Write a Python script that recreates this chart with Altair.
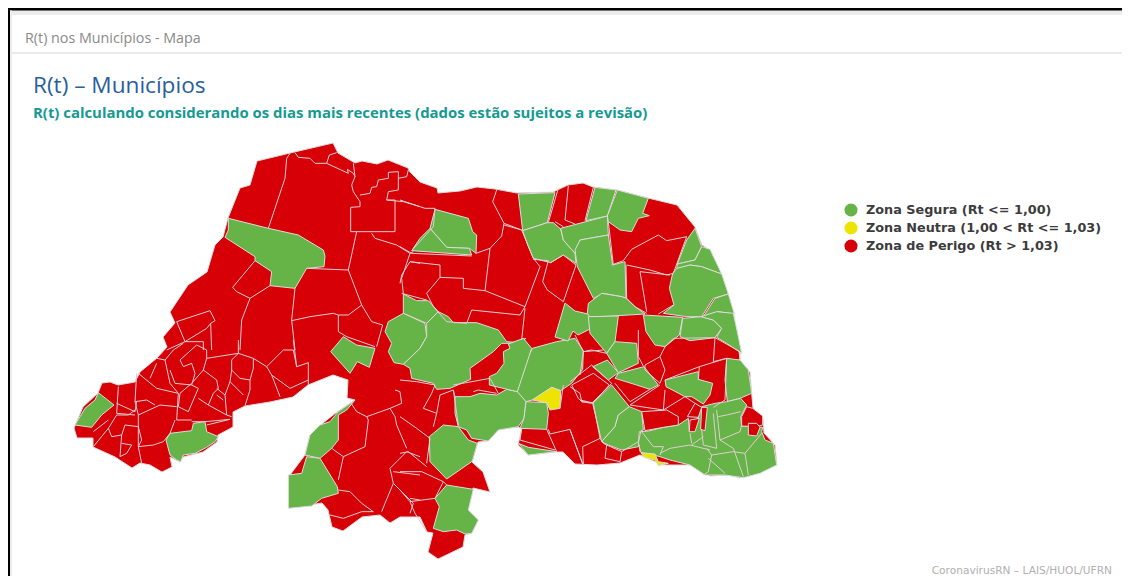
import altair as alt

# Crop origins of the traced map sheets (sheet units are 3x the picture)
Z1, Z2, Z3, Z4, Z8, Z10 = (60, 130), (60, 340), (400, 170), (400, 330), (320, 280), (570, 300)
ABS = (0, 0)

ZONES = ["Zona Segura (Rt <= 1,00)", "Zona Neutra (1,00 < Rt <= 1,03)", "Zona de Perigo (Rt > 1,03)"]
COLORS = ["#66b447", "#ede500", "#d70007"]

STATE_OUTLINE = [(257,161),(290,153),(333,143),(338,153),(355,163),(362,161),(377,164),(388,160),(408,168),(410,172),(420,182),(437,188),(438,193),(460,191),(477,187),(495,189),(517,193),(553,192),(568,185),(583,183),(593,187),(617,190),(648,198),(677,205),(695,227),(702,245),(708,249),(720,273),(728,297),(732,310),(737,333),(740,360),(750,372),(752,397),(753,408),(763,418),(764,433),(775,445),(777,465),(760,472),(747,470),(740,478),(728,475),(710,476),(705,473),(693,465),(667,465),(663,465),(640,455),(620,463),(597,465),(575,464),(563,452),(555,452),(528,455),(518,445),(522,428),(515,427),(498,430),(488,441),(478,442),(472,462),(483,472),(490,492),(473,488),(468,510),(478,520),(472,533),(465,535),(463,547),(438,559),(428,552),(433,533),(427,532),(420,517),(400,517),(390,523),(380,515),(362,517),(343,531),(332,527),(328,510),(322,503),(290,508),(290,475),(305,455),(310,435),(323,423),(337,412),(355,400),(347,398),(348,380),(333,375),(308,385),(293,397),(270,402),(245,406),(233,412),(233,427),(218,435),(217,442),(203,452),(183,457),(180,462),(170,457),(172,467),(162,472),(150,465),(140,463),(132,468),(115,457),(93,447),(93,438),(77,438),(74,428),(83,407),(98,393),(102,383),(110,382),(118,385),(135,382),(140,372),(157,358),(167,347),(163,337),(175,323),(170,312),(188,285),(207,272),(215,245),(223,237),(228,218),(240,188),(250,185)]

GREEN = [
 (Z1, [(505,265),(625,295),(715,315),(790,360),(795,378),(792,410),(740,415),(705,475),(630,467),(635,425),(585,392),(585,380),(495,322),(505,300)]),
 (Z8, [(70,170),(110,195),(165,205),(148,262),(112,245),(90,280),(32,215)]),
 (Z8, [(250,42),(290,62),(325,62),(355,95),(320,130),(250,100)]),
 (Z8, [(250,100),(315,130),(320,170),(300,205),(250,253),(222,248),(205,215),(215,190),(195,155),(205,125)]),
 (Z8, [(355,95),(385,110),(400,128),(470,128),(535,150),(560,185),(600,188),(618,175),(575,190),(545,190),(520,215),(450,265),(452,298),(390,325),(350,328),(340,310),(275,295),(270,265),(250,253),(300,205),(320,170),(320,130)]),
 (Z4, [(165,200),(210,200),(240,190),(290,195),(320,178),(355,185),(378,215),(372,265),(355,290),(295,300),(265,333),(215,325),(200,300),(175,290),(165,250)]),
 (Z4, [(378,215),(440,218),(445,250),(440,298),(360,295),(372,265)]),
 (Z4, [(397,55),(470,35),(525,25),(550,62),(548,118),(515,160),(482,182),(455,172),(397,210),(378,215),(352,185),(360,130)]),
 (Z4, [(395,55),(352,185),(322,178),(268,165),(268,140),(290,130),(312,100),(310,65),(330,55),(325,42),(370,25)]),
 (ABS, [(1695,909),(1725,933),(1764,942),(1770,951),(1776,984),(1734,1005),(1719,993),(1704,1023),(1665,1011)]),
 (Z3, [(105,118),(205,145),(218,185),(230,195),(228,250),(208,235),(140,232),(90,175)]),
 (Z3, [(90,175),(140,232),(208,235),(215,255),(35,242),(60,205)]),
 (Z3, [(355,72),(465,68),(442,158),(368,182)]),
 (Z3, [(585,52),(648,60),(622,138),(558,152)]),
 (Z3, [(652,60),(745,85),(728,130),(748,137),(715,145),(695,185),(660,180),(625,155),(622,138)]),
 (Z3, [(368,182),(442,158),(460,158),(482,177),(490,210),(525,250),(528,280),(490,255),(452,278),(400,265),(385,230)]),
 (Z3, [(482,175),(622,138),(625,195),(540,210),(525,250),(490,210)]),
 (Z3, [(540,210),(625,195),(638,285),(675,275),(678,385),(665,380),(610,370),(580,385),(532,290),(525,240)]),
 (Z3, [(885,175),(905,230),(885,270),(832,282),(860,210)]),
 (Z3, [(885,270),(905,230),(930,238),(965,312),(905,290),(870,285),(830,297),(832,282)]),
 (Z3, [(830,295),(870,285),(905,290),(965,312),(985,372),(940,385),(905,440),(860,440),(790,430),(822,405),(808,355),(818,310)]),
 (Z3, [(985,372),(1003,432),(955,425),(910,440),(945,385)]),
 (Z3, [(565,400),(605,370),(665,380),(680,385),(705,410),(735,432),(570,442),(562,430)]),
 (Z10, [(55,50),(145,48),(135,125),(110,160),(60,100)]),
 (Z10, [(220,45),(338,52),(328,105),(285,140),(255,135),(228,95)]),
 (Z10, [(338,55),(395,50),(430,60),(455,85),(435,113),(360,122),(330,110)]),
 (Z10, [(393,50),(440,35),(490,40),(505,110),(515,160),(470,130),(440,112),(455,85),(430,60)]),
 (Z10, [(110,160),(135,125),(200,130),(205,190),(145,218)]),
 (Z10, [(112,180),(145,218),(115,240),(68,200)]),
 (Z10, [(145,220),(222,200),(265,255),(240,268),(200,255),(135,235)]),
 (Z10, [(125,255),(178,320),(145,345),(135,380),(95,425),(68,310)]),
 (Z10, [(178,320),(215,335),(220,390),(208,395),(205,440),(155,450),(115,435),(95,425),(135,380),(145,345)]),
 (Z10, [(285,240),(385,215),(385,238),(428,250),(420,285),(400,312),(365,290),(345,290),(288,260)]),
 (Z10, [(470,175),(510,180),(535,210),(545,280),(510,295),(472,305),(465,240)]),
 (Z10, [(212,395),(235,393),(280,382),(325,375),(355,355),(358,395),(380,365),(395,320),(435,310),(470,305),(512,295),(530,315),(512,350),(515,378),(540,380),(578,382),(575,395),(585,420),(610,430),(620,495),(570,520),(520,533),(465,525),(405,525),(360,495),(300,480),(270,470),(250,465),(213,458),(205,430)]),
 (Z4, [(100,310),(130,285),(175,290),(205,330),(232,340),(218,390),(215,395),(140,447),(90,395),(88,320)]),
 (Z4, [(140,465),(220,478),(205,540),(235,570),(215,610),(195,612),(170,600),(130,605),(100,595),(118,530),(105,505)]),
 (Z4, [(355,340),(385,352),(470,365),(385,375)]),
 (Z2, [(115,158),(162,195),(125,225),(95,262),(45,255),(75,205),(105,180)]),
 (Z2, [(318,300),(330,280),(395,272),(400,250),(435,245),(440,275),(475,290),(465,305),(440,322),(405,340),(370,345),(362,365),(350,360),(330,345)]),
 (Z2, [(885,180),(860,210),(835,225),(835,300),(815,325),(780,355),(735,345),(750,285),(780,255),(810,245),(835,215)]),
 (Z2, [(740,350),(780,355),(832,440),(835,460),(785,475),(755,498),(685,505),(685,405),(725,400)]),
]

YELLOW = [
 (Z4, [(397,210),(455,172),(482,182),(480,235),(450,240),(440,218)]),
 (Z10, [(213,458),(255,462),(265,485),(295,490),(265,497),(255,480),(222,472)]),
]

RED_ON_GREEN = [
 (Z10, [(395,322),(412,322),(405,392),(392,388)]),
 (Z10, [(360,360),(388,355),(375,395),(358,395)]),
 (Z10, [(352,350),(375,310),(395,322),(385,352)]),
 (Z10, [(515,350),(530,320),(548,325),(578,348),(578,375),(560,380),(515,378)]),
 (Z10, [(535,370),(560,370),(570,382),(560,408),(535,405)]),
 (Z10, [(215,335),(290,330),(325,350),(325,375),(280,382),(225,392)]),
]

BORDERS = [
 (Z1, [(690,70),(680,85),(675,145),(625,295)]),
 (Z1, [(705,68),(715,82),(750,85),(765,100),(800,100),(808,75),(830,68)]),
 (Z1, [(800,100),(865,130),(862,118),(880,130),(885,140),(875,165),(880,185),(900,215),(900,230),(872,232),(872,305),(1005,305),(1005,210),(980,210),(985,185),(1015,180),(1015,125),(985,127),(985,145),(955,150),(950,170),(935,172),(930,190),(900,195)]),
 (Z1, [(880,100),(885,140)]),
 (Z1, [(1045,120),(1040,140),(1015,145)]),
 (Z1, [(980,210),(1030,215),(1080,230)]),
 (Z1, [(890,305),(865,420),(740,415)]),
 (Z1, [(865,420),(905,525),(935,575),(968,585),(950,650)]),
 (Z1, [(905,525),(865,555),(835,555),(820,550),(750,560),(695,572)]),
 (Z1, [(835,555),(835,605),(860,620),(945,650)]),
 (Z1, [(935,310),(945,325),(1010,345),(1050,370),(1060,365)]),
 (Z1, [(1050,370),(1040,400),(1025,445),(1030,490)]),
 (Z1, [(1050,395),(1080,400)]),
 (Z1, [(705,475),(695,570),(705,660)]),
 (Z1, [(630,467),(570,505),(545,570),(540,660)]),
 (Z1, [(585,392),(518,472),(530,485),(570,505)]),
 (Z1, [(350,575),(450,542),(465,572),(452,580),(455,660)]),
 (Z1, [(350,575),(375,635),(440,595),(452,580)]),
 (Z1, [(375,635),(430,635),(430,660)]),
 (Z1, [(375,635),(320,660)]),
 (Z2, [(290,55),(315,60),(340,30),(370,10)]),
 (Z2, [(440,55),(535,40),(580,55),(620,80),(635,105),(660,170)]),
 (Z2, [(535,0),(535,40)]),
 (Z2, [(535,40),(515,60),(515,90),(510,125),(495,165),(500,225)]),
 (Z2, [(580,55),(580,85),(570,120),(570,150),(555,197)]),
 (Z2, [(515,90),(540,115),(570,120)]),
 (Z2, [(510,125),(550,165)]),
 (Z2, [(620,80),(670,30),(700,30),(710,80),(745,68),(745,135)]),
 (Z2, [(635,105),(690,145),(745,120)]),
 (Z2, [(700,0),(710,80)]),
 (Z2, [(440,55),(430,90),(470,120),(475,145),(460,160),(445,195)]),
 (Z2, [(430,90),(395,130),(360,160)]),
 (Z2, [(315,60),(330,130),(355,160),(350,240),(395,240)]),
 (Z2, [(235,100),(290,145),(355,160)]),
 (Z2, [(290,70),(270,115)]),
 (Z2, [(330,90),(345,130),(395,135),(405,100),(395,70),(370,80),(360,60),(410,15),(440,30),(440,55)]),
 (Z2, [(360,160),(355,200),(385,215),(415,145),(395,135)]),
 (Z2, [(350,200),(300,195),(235,225),(225,185),(230,100)]),
 (Z2, [(225,185),(260,180),(285,195)]),
 (Z2, [(230,185),(225,215),(170,190)]),
 (Z2, [(175,140),(170,220),(225,225)]),
 (Z2, [(145,265),(170,225)]),
 (Z2, [(145,265),(155,290),(185,285),(180,350)]),
 (Z2, [(185,285),(195,255),(235,260),(245,300),(235,320),(245,370)]),
 (Z2, [(235,225),(235,320)]),
 (Z2, [(185,310),(215,315),(200,340),(180,350)]),
 (Z2, [(235,320),(280,315),(310,305),(330,280)]),
 (Z2, [(100,275),(145,240)]),
 (Z2, [(100,320),(145,265)]),
 (Z2, [(345,240),(330,280)]),
 (Z2, [(395,245),(435,245),(510,238)]),
 (Z2, [(440,255),(510,238)]),
 (Z2, [(445,195),(500,225),(515,230)]),
 (Z2, [(415,175),(445,195)]),
 (Z2, [(470,145),(495,165)]),
 (Z2, [(470,165),(490,180)]),
 (Z2, [(170,225),(205,225),(225,210)]),
 (Z2, [(870,185),(890,215),(920,230),(925,240),(915,320),(850,350),(815,325)]),
 (Z2, [(920,230),(990,205),(1005,230),(1010,255),(1040,325)]),
 (Z2, [(1005,150),(1020,155),(1025,190),(990,205)]),
 (Z2, [(1040,335),(990,385),(1000,430),(975,490),(965,515)]),
 (Z2, [(850,350),(835,420)]),
 (Z2, [(1000,395),(1080,405)]),
 (Z2, [(1040,335),(1080,350)]),
 (Z2, [(1000,430),(1060,490),(1050,520)]),
 (Z2, [(1050,475),(1080,480)]),
 (Z2, [(835,450),(870,455),(905,490),(940,515),(905,515),(850,535),(810,525)]),
 (Z3, [(0,90),(75,115),(105,115)]),
 (Z3, [(105,115),(100,170),(35,242)]),
 (Z3, [(0,230),(35,250)]),
 (Z3, [(290,60),(278,95),(312,160),(365,180)]),
 (Z3, [(312,160),(305,198),(270,235),(228,250)]),
 (Z3, [(270,235),(255,362)]),
 (Z3, [(35,250),(215,258)]),
 (Z3, [(312,165),(365,180),(400,265),(420,290),(375,410),(255,362),(190,355),(190,325),(120,322),(120,285),(30,275),(5,315),(0,340)]),
 (Z3, [(120,322),(80,370),(100,410),(140,455),(200,460),(215,420),(360,435),(375,410)]),
 (Z3, [(5,370),(80,390)]),
 (Z3, [(375,415),(365,510)]),
 (Z3, [(400,268),(445,272),(428,335),(442,360),(490,395)]),
 (Z3, [(452,278),(490,255),(528,285),(490,395)]),
 (Z3, [(445,158),(475,55)]),
 (Z3, [(505,48),(495,150),(525,162)]),
 (Z3, [(465,155),(490,170)]),
 (Z3, [(580,52),(555,152)]),
 (Z3, [(678,285),(680,385)]),
 (Z3, [(635,285),(670,272),(695,238),(775,195),(800,212),(860,200),(820,310),(800,315),(750,300),(680,285)]),
 (Z3, [(720,305),(740,425)]),
 (Z3, [(720,305),(810,315)]),
 (Z3, [(678,385),(705,410),(740,430)]),
 (Z3, [(820,405),(775,432)]),
 (Z3, [(625,155),(640,285)]),
 (Z4, [(0,260),(50,295),(90,325),(80,400)]),
 (Z4, [(0,150),(50,155),(105,165),(95,190),(70,235),(110,250),(120,195),(160,180),(165,200)]),
 (Z4, [(160,180),(175,285)]),
 (Z4, [(110,250),(100,290)]),
 (Z4, [(0,370),(25,365),(80,410)]),
 (Z4, [(0,425),(65,425),(130,455),(140,465)]),
 (Z4, [(0,480),(30,515),(105,505)]),
 (Z4, [(30,515),(45,550),(80,605)]),
 (Z4, [(130,455),(105,505)]),
 (Z4, [(160,165),(270,145),(295,190)]),
 (Z4, [(220,185),(235,180),(290,190)]),
 (Z4, [(365,295),(360,330),(465,360)]),
 (Z4, [(445,298),(450,312),(510,298),(548,403)]),
 (Z4, [(440,298),(470,365)]),
 (Z4, [(490,165),(480,235)]),
 (Z4, [(540,210),(550,212),(580,220),(600,325),(548,350),(550,405)]),
 (Z4, [(515,165),(580,130),(628,165),(580,218)]),
 (Z4, [(515,165),(535,205),(545,215),(580,218)]),
 (Z4, [(600,325),(610,340),(620,345),(615,385),(660,395)]),
 (Z4, [(620,345),(665,365),(660,395)]),
 (Z4, [(665,365),(715,335),(720,365)]),
 (Z10, [(0,390),(40,495)]),
 (Z10, [(15,105),(40,155),(100,150)]),
 (Z10, [(40,155),(30,225)]),
 (Z10, [(40,155),(65,150),(110,160)]),
 (Z10, [(0,245),(65,195),(125,250),(65,310),(35,305),(30,280),(0,260)]),
 (Z10, [(205,90),(205,170),(220,198)]),
 (Z10, [(285,140),(270,170),(285,210),(270,250),(225,210),(225,195),(270,170)]),
 (Z10, [(285,240),(388,200),(470,175)]),
 (Z10, [(388,200),(385,240)]),
 (Z10, [(285,140),(310,115),(435,113),(430,185)]),
 (Z10, [(435,113),(510,155),(510,180)]),
 (Z10, [(430,185),(470,175)]),
 (Z10, [(470,175),(465,300),(430,322)]),
 (Z10, [(135,250),(180,305),(240,268)]),
 (Z10, [(180,315),(270,255)]),
 (Z10, [(285,270),(280,330),(345,290),(375,310)]),
 (Z10, [(180,315),(280,330)]),
 (Z10, [(395,390),(400,435),(440,445),(430,340)]),
 (Z10, [(440,330),(450,420),(510,395),(515,375)]),
 (Z10, [(445,350),(470,345),(512,335)]),
 (Z10, [(450,420),(490,445),(520,530)]),
 (Z10, [(490,455),(525,460),(535,525)]),
 (Z10, [(525,460),(575,400)]),
 (Z10, [(410,445),(425,465),(415,515),(400,525)]),
 (Z10, [(425,465),(490,455)]),
 (Z10, [(415,475),(465,520)]),
 (Z10, [(365,435),(400,410)]),
 (Z10, [(270,460),(300,445),(360,435),(420,450)]),
 (Z10, [(360,400),(365,430)]),
 (Z10, [(215,395),(250,440),(280,440),(270,465)]),
]

def sheet(origin, pts):
    return [[origin[0] + x / 3, origin[1] + y / 3] for x, y in pts]

def area(zone, ring):
    return {"type": "Feature", "properties": {"zona": zone},
            "geometry": {"type": "Polygon", "coordinates": [ring + [ring[0]]]}}

features = [area(ZONES[2], [list(p) for p in STATE_OUTLINE])]
features += [area(ZONES[0], sheet(o, p)) for o, p in GREEN]
features += [area(ZONES[1], sheet(o, p)) for o, p in YELLOW]
features += [area(ZONES[2], sheet(o, p)) for o, p in RED_ON_GREEN]

border_feature = {"type": "Feature", "properties": {},
                  "geometry": {"type": "MultiLineString", "coordinates": [sheet(o, p) for o, p in BORDERS]}}

BORDER_COLOR = "#e0ced2"

fill = alt.Chart(alt.Data(values=features)).mark_geoshape(stroke="#dcdcdc", strokeWidth=1).encode(
    color=alt.Color("properties.zona:N",
        scale=alt.Scale(domain=ZONES, range=COLORS),
        sort=ZONES,
        legend=alt.Legend(title=None, orient="none", legendX=836, legendY=195,
                          symbolType="circle", symbolSize=170, symbolStrokeWidth=0,
                          labelFont="DejaVu Sans", labelFontWeight="bold", labelFontSize=12.8,
                          labelColor="#3c3c3c", labelLimit=400, rowPadding=4, labelOffset=8))
).project(type="identity", scale=1, translate=[-8, -8])

lines = alt.Chart(alt.Data(values=[border_feature])).mark_geoshape(
    filled=False, stroke=BORDER_COLOR, strokeWidth=1
).project(type="identity", scale=1, translate=[-8, -8])

# page furniture: (x, x2, y, y2, colour)
PANELS = [
    (8, 1122, 10, 15, "#ececec"),
    (8, 10, 8, 580, "#000000"),
    (8, 1122, 8, 10.5, "#000000"),
    (10, 12, 10.5, 580, "#ececec"),
    (12, 1122, 52.5, 53.5, "#d6d6d6"),
]
panel_layers = [
    alt.Chart(alt.Data(values=[{"k": i}])).mark_rect(color=c).encode(
        x=alt.value(x1 - 8), x2=alt.value(x2 - 8), y=alt.value(y1 - 8), y2=alt.value(y2 - 8))
    for i, (x1, x2, y1, y2, c) in enumerate(PANELS)
]

# (text, x, y, font, size, weight, colour, align)
TEXTS = [
    ("R(t) nos Municípios - Mapa", 25, 38.5, "Open Sans", 14.3, "normal", "#8a8a8a", "left"),
    ("R(t) – Municípios", 33, 86, "Open Sans", 22.6, "normal", "#27609c", "left"),
    ("R(t) calculando considerando os dias mais recentes (dados estão sujeitos a revisão)",
     33, 113.5, "Open Sans", 14.9, "bold", "#149a92", "left"),
    ("CoronavirusRN – LAIS/HUOL/UFRN", 1112, 571, "DejaVu Sans", 10.6, "normal", "#b0b0b0", "right"),
]
text_layers = [
    alt.Chart(alt.Data(values=[{"k": i}])).mark_text(
        text=t, font=f, fontSize=s, fontWeight=w, color=c, align=a, baseline="middle"
    ).encode(x=alt.value(x - 8), y=alt.value(y - 8))
    for i, (t, x, y, f, s, w, c, a) in enumerate(TEXTS)
]

chart = alt.layer(*panel_layers, fill, lines, *text_layers).properties(
    width=1114, height=568, padding=0, autosize=alt.AutoSizeParams(type="none"), background="#ffffff"
).configure_view(stroke=None)

chart.save("out.html", embed_options={"renderer": "svg", "actions": False})
